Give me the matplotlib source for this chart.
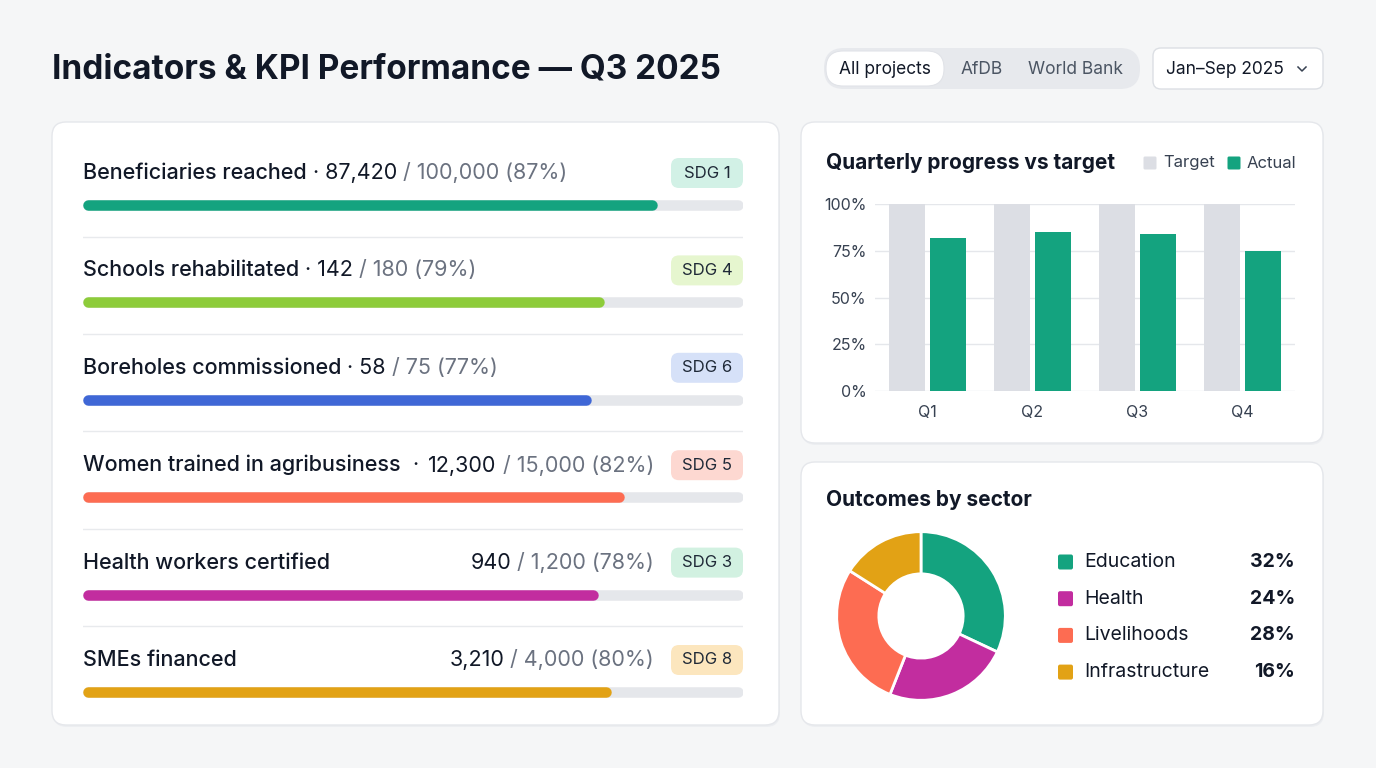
import numpy as np
import matplotlib.pyplot as plt
from matplotlib.patches import FancyBboxPatch

plt.rcParams['font.family'] = ['Inter', 'DejaVu Sans']

# ---- data ----
kpi_names = ['Beneficiaries reached', 'Schools rehabilitated', 'Boreholes commissioned',
             'Women trained in agribusiness', 'Health workers certified', 'SMEs financed']
kpi_values = ['87,420', '142', '58', '12,300', '940', '3,210']
kpi_targets = ['100,000', '180', '75', '15,000', '1,200', '4,000']
kpi_pct = [87, 79, 77, 82, 78, 80]
kpi_sdg = ['SDG 1', 'SDG 4', 'SDG 6', 'SDG 5', 'SDG 3', 'SDG 8']
kpi_colors = ['#14a37f', '#8dcc3a', '#3f67d6', '#fd6c52', '#c22d9f', '#e2a215']
sdg_fill = ['#d2f1e6', '#e6f6cf', '#d6e1f8', '#fdd8d1', '#d2f1e1', '#fce6be']
# 'inline' = value follows the name, 'right' = value pushed to the badge
kpi_layout = ['inline', 'inline', 'inline', 'dot-right', 'right', 'right']

quarters = ['Q1', 'Q2', 'Q3', 'Q4']
target = [100, 100, 100, 100]
actual = [82, 85, 84, 75]

sectors = ['Education', 'Health', 'Livelihoods', 'Infrastructure']
shares = [32, 24, 28, 16]
sector_colors = ['#14a37f', '#c22d9f', '#fd6c52', '#e2a215']

W, H = 1376, 768
INK = '#111827'
GREY = '#6b7280'
LINE = '#e5e7eb'


def px_axes(x, y, w, h):
    return fig.add_axes([x / W, 1 - (y + h) / H, w / W, h / H])


def card(ax, x, y, w, h, r=14, fc='white', ec=LINE, lw=1.0, z=1):
    ax.add_patch(FancyBboxPatch((x + r, y + r), w - 2 * r, h - 2 * r,
                                boxstyle='round,pad=%d' % r, fc=fc, ec=ec, lw=lw, zorder=z))


fig = plt.figure(figsize=(W / 100, H / 100), dpi=100)
fig.patch.set_facecolor('#f5f6f7')

bg = fig.add_axes([0, 0, 1, 1])
bg.set_xlim(0, W)
bg.set_ylim(H, 0)
bg.axis('off')

# header
bg.text(52, 69, 'Indicators & KPI Performance \u2014 Q3 2025', fontsize=24, fontweight='bold',
        color=INK, ha='left', va='center')

card(bg, 824, 48, 316, 41, r=20, fc='#e7e9ed', ec='none')
card(bg, 826, 51, 118, 35, r=17, fc='white', ec='#e1e3e8', lw=0.8, z=2)
bg.text(885, 69, 'All projects', fontsize=12.5, color=INK, ha='center', va='center', zorder=3)
bg.text(982, 69, 'AfDB', fontsize=12.5, color='#4b5563', ha='center', va='center', zorder=3)
bg.text(1076, 69, 'World Bank', fontsize=12.5, color='#4b5563', ha='center', va='center', zorder=3)

card(bg, 1153, 48, 170, 41, r=8, fc='white', ec='#dcdfe4')
bg.text(1166, 69, 'Jan\u2013Sep 2025', fontsize=12.5, color=INK, ha='left', va='center', zorder=3)
bg.plot([1298, 1302, 1306], [67, 71, 67], color='#374151', lw=1.1, zorder=3)

# cards
for (x, y, w, h) in [(52, 122, 727, 603), (801, 122, 522, 321), (801, 462, 522, 263)]:
    card(bg, x + 1, y + 2, w, h, r=14, fc='#eceef1', ec='none', z=0)
    card(bg, x, y, w, h, r=14)

# ---- KPI rows ----
row_h = 97.4
label_y0, bar_y0, sep_y0 = 173, 205, 236.5
kx0, kx1 = 83, 743
kax = px_axes(kx0, 122, kx1 - kx0, 603)
kax.set_xlim(0, 100)
kax.set_ylim(725, 122)
kax.axis('off')
bar_px = 10.5
r_units = (bar_px / 2) / ((kx1 - kx0) / 100)

for i, name in enumerate(kpi_names):
    ly = label_y0 + i * row_h
    by = bar_y0 + i * row_h
    kax.plot([r_units, 100 - r_units], [by, by], color=LINE, lw=bar_px * 0.72,
             solid_capstyle='round', zorder=2)
    kax.plot([r_units, kpi_pct[i] - r_units], [by, by], color=kpi_colors[i], lw=bar_px * 0.72,
             solid_capstyle='round', zorder=3)
    if i < len(kpi_names) - 1:
        sy = sep_y0 + i * row_h
        kax.plot([0, 100], [sy, sy], color='#e8eaed', lw=1, zorder=1)

    t = bg.text(kx0, ly, name, fontsize=15.5, fontweight='medium', color=INK,
                ha='left', va='center', zorder=4)
    tail = ' / %s (%d%%)' % (kpi_targets[i], kpi_pct[i])
    if kpi_layout[i] == 'inline':
        t2 = bg.annotate(' \u00b7 ' + kpi_values[i], xy=(1, 0), xycoords=t, fontsize=15.5,
                         color=INK, ha='left', va='bottom', zorder=4)
        bg.annotate(tail, xy=(1, 0), xycoords=t2, fontsize=15.5, color=GREY,
                    ha='left', va='bottom', zorder=4)
    else:
        g = bg.text(654, ly, tail, fontsize=15.5, color=GREY, ha='right', va='center', zorder=4)
        bg.annotate(kpi_values[i], xy=(0, 0), xycoords=g, fontsize=15.5, color=INK,
                    ha='right', va='bottom', zorder=4)
        if kpi_layout[i] == 'dot-right':
            bg.annotate('  \u00b7', xy=(1, 0), xycoords=t, fontsize=15.5, color=INK,
                        ha='left', va='bottom', zorder=4)

    card(bg, 671, ly - 15, 72, 30, r=8, fc=sdg_fill[i], ec='none', z=3)
    bg.text(707, ly, kpi_sdg[i], fontsize=12, color='#1f2937', ha='center', va='center', zorder=5)

# ---- quarterly bar chart ----
bg.text(826, 163, 'Quarterly progress vs target', fontsize=15, fontweight='bold', color=INK,
        ha='left', va='center')
bg.add_patch(FancyBboxPatch((1145, 158), 10, 10, boxstyle='round,pad=1.5', fc='#dcdee4', ec='none'))
bg.text(1163, 163, 'Target', fontsize=12, color='#374151', ha='left', va='center')
bg.add_patch(FancyBboxPatch((1229, 158), 10, 10, boxstyle='round,pad=1.5', fc='#14a37f', ec='none'))
bg.text(1247, 163, 'Actual', fontsize=12, color='#374151', ha='left', va='center')

qax = px_axes(875, 204, 420, 187)
x = np.arange(len(quarters))
qax.bar(x - 0.195, target, width=0.335, color='#dcdee4', zorder=2)
qax.bar(x + 0.195, actual, width=0.335, color='#14a37f', zorder=2)
qax.set_xlim(-0.5, len(quarters) - 0.5)
qax.set_ylim(0, 100)
qax.set_yticks([0, 25, 50, 75, 100])
qax.set_yticklabels(['0%', '25%', '50%', '75%', '100%'])
qax.set_xticks(x)
qax.set_xticklabels(quarters)
qax.grid(axis='y', color='#e5e7eb', lw=1, zorder=0)
qax.set_axisbelow(True)
for s in qax.spines.values():
    s.set_visible(False)
qax.tick_params(length=0, labelsize=11.5, labelcolor='#374151')
qax.tick_params(axis='y', pad=6)
qax.tick_params(axis='x', pad=10)
qax.patch.set_alpha(0)

# ---- donut ----
bg.text(826, 500, 'Outcomes by sector', fontsize=15, fontweight='bold', color=INK,
        ha='left', va='center')
dax = px_axes(835, 530, 172, 172)
dax.pie(shares, colors=sector_colors, startangle=90, counterclock=False, radius=1,
        wedgeprops=dict(width=0.5, edgecolor='white', linewidth=2))
dax.set_xlim(-1.02, 1.02)
dax.set_ylim(-1.02, 1.02)
dax.set_aspect('equal')
dax.axis('off')

for i, s in enumerate(sectors):
    yy = 562 + i * 36.7
    bg.add_patch(FancyBboxPatch((1060, yy - 5.5), 11, 11, boxstyle='round,pad=2',
                                fc=sector_colors[i], ec='none'))
    bg.text(1084, yy, s, fontsize=14, color=INK, ha='left', va='center')
    bg.text(1295, yy, '%d%%' % shares[i], fontsize=14, fontweight='bold', color=INK,
            ha='right', va='center')

fig.savefig('out.png', dpi=100, facecolor=fig.get_facecolor())
